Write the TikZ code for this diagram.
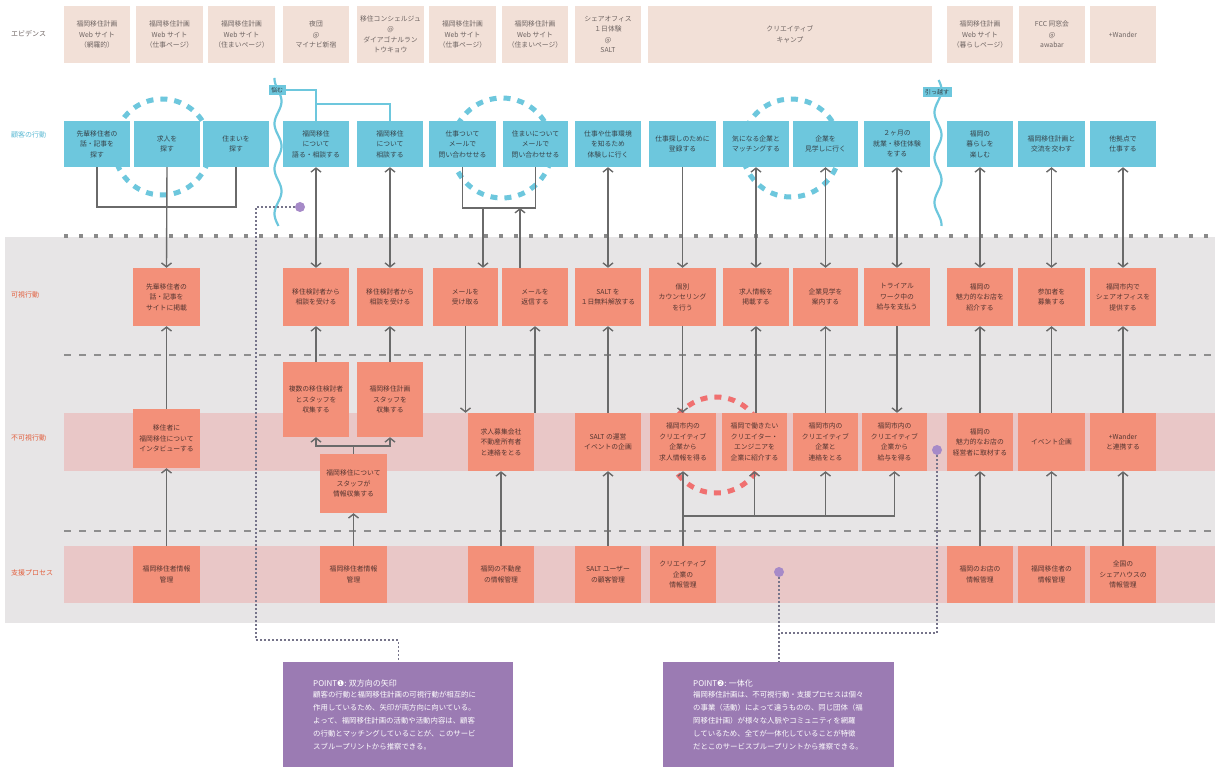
\documentclass[tikz,border=0pt]{standalone}
\usepackage{fontspec}
\setmainfont{Noto Sans CJK JP}
\newfontfamily\dingfont{DejaVu Sans}
\usetikzlibrary{arrows.meta}

\definecolor{evifill}{HTML}{F2E0D7}
\definecolor{evitext}{HTML}{6E6462}
\definecolor{cusfill}{HTML}{6DC7DD}
\definecolor{custext}{HTML}{36434A}
\definecolor{salfill}{HTML}{F39079}
\definecolor{saltext}{HTML}{553530}
\definecolor{bandgrey}{HTML}{E7E5E6}
\definecolor{bandpink}{HTML}{E9C7C7}
\definecolor{dashgrey}{HTML}{8E8E8E}
\definecolor{dotgrey}{HTML}{8A8A8A}
\definecolor{linegrey}{HTML}{6A6A6A}
\definecolor{purplebox}{HTML}{9B7BB3}
\definecolor{purpledot}{HTML}{A68AC8}
\definecolor{leadercol}{HTML}{76748A}
\definecolor{bluetext}{HTML}{5CBAD4}
\definecolor{redtext}{HTML}{E2603F}
\definecolor{ringred}{HTML}{F07070}

% box placed by its corners: style, name, x1, y1, x2, y2, text
\newcommand\boxat[7]{%
  \pgfmathsetmacro\bxw{#5-#3}\pgfmathsetmacro\bxh{#6-#4}%
  \node[#1, minimum width=\bxw pt, minimum height=\bxh pt] (#2) at ({(#3+#5)/2},{(#4+#6)/2}) {#7};}

\tikzset{
  bx/.style={inner sep=0pt, align=center, font=\fontsize{6.8}{10.5}\selectfont},
  evi/.style={bx, fill=evifill, text=evitext},
  cus/.style={bx, fill=cusfill, text=custext},
  sal/.style={bx, fill=salfill, text=saltext},
  rowlabel/.style={anchor=west, inner sep=0pt, font=\fontsize{7}{8}\selectfont},
  ln/.style={draw=linegrey, line width=1.4pt},
  arr/.style={ln, -{Straight Barb[length=4pt,width=10pt]}},
  biarr/.style={ln, {Straight Barb[length=4pt,width=10pt]}-{Straight Barb[length=4pt,width=10pt]}},
  blueln/.style={draw=cusfill, line width=2.2pt},
  ring/.style={line width=5pt, dash pattern=on 7pt off 7pt},
  rowsep/.style={draw=dashgrey, line width=2.6pt, dash pattern=on 7pt off 8pt},
  leader/.style={draw=leadercol, line width=1.3pt, dash pattern=on 1.6pt off 2.4pt},
  pdot/.style={circle, fill=purpledot, inner sep=0pt, minimum size=10pt},
  waytag/.style={fill=cusfill, text=custext, inner sep=2.5pt, font=\fontsize{6}{7}\selectfont},
  pointbox/.style={fill=purplebox, inner sep=0pt},
  pointtitle/.style={anchor=west, text=white, inner sep=0pt, font=\fontsize{8}{9}\selectfont},
  pointbody/.style={anchor=north west, text=white, align=left, inner sep=0pt, font=\fontsize{7.4}{13}\selectfont},
}

\begin{document}
\begin{tikzpicture}[x=1pt,y=-1pt]
\useasboundingbox (0,0) rectangle (1215,767);
\fill[white] (0,0) rectangle (1215,767);

% lanes
\fill[bandgrey] (5,237) rectangle (1215,623);
\fill[bandpink] (64,413) rectangle (1215,471);
\fill[bandpink] (64,546) rectangle (1215,603);
\draw[rowsep] (64,355) -- (1215,355);
\draw[rowsep] (64,531) -- (1215,531);
\draw[draw=dotgrey, line width=4pt, dash pattern=on 4pt off 11pt] (64,236) -- (1215,236);

% dashed rings behind the boxes
\draw[ring, draw=cusfill] (162,147) circle (48pt);
\draw[ring, draw=cusfill] (502,148) circle (50pt);
\draw[ring, draw=cusfill] (791,148) circle (49pt);
\draw[ring, draw=ringred] (716,445) circle (48pt);

% row labels
\node[rowlabel, text=evitext] (lEvi) at (11,34) {エビデンス};
\node[rowlabel, text=bluetext] (lCus) at (11,135) {顧客の行動};
\node[rowlabel, text=redtext] (lVis) at (11,295) {可視行動};
\node[rowlabel, text=redtext] (lInv) at (11,438) {不可視行動};
\node[rowlabel, text=redtext] (lSup) at (11,573) {支援プロセス};

% wavy phase dividers
\draw[blueln] plot[domain=78:226, samples=90, smooth] ({278+3.5*sin(8*\x)},{\x});
\draw[blueln] plot[domain=80:226, samples=90, smooth] ({938+3.5*sin(8*\x+90)},{\x});

% evidence
\boxat{evi}{e1}{64}{6}{130}{63}{福岡移住計画\\Web サイト\\（網羅的）}
\boxat{evi}{e2}{136}{6}{203}{63}{福岡移住計画\\Web サイト\\（仕事ページ）}
\boxat{evi}{e3}{208}{6}{275}{63}{福岡移住計画\\Web サイト\\（住まいページ）}
\boxat{evi}{e4}{283}{6}{349}{63}{夜団\\@\\マイナビ新宿}
\boxat{evi}{e5}{357}{6}{424}{63}{移住コンシェルジュ\\@\\ダイアゴナルラン\\トウキョウ}
\boxat{evi}{e6}{429}{6}{496}{63}{福岡移住計画\\Web サイト\\（仕事ページ）}
\boxat{evi}{e7}{502}{6}{568}{63}{福岡移住計画\\Web サイト\\（住まいページ）}
\boxat{evi}{e8}{575}{6}{641}{63}{シェアオフィス\\１日体験\\@\\SALT}
\boxat{evi}{e9}{648}{6}{932}{63}{クリエイティブ\\キャンプ}
\boxat{evi}{e10}{947}{6}{1013}{63}{福岡移住計画\\Web サイト\\（暮らしページ）}
\boxat{evi}{e11}{1019}{6}{1085}{63}{FCC 同窓会\\@\\awabar}
\boxat{evi}{e12}{1090}{6}{1156}{63}{+Wander}

% customer actions
\boxat{cus}{cu1}{64}{121}{130}{167}{先輩移住者の\\話・記事を\\探す}
\boxat{cus}{cu2}{134}{121}{200}{167}{求人を\\探す}
\boxat{cus}{cu3}{203}{121}{269}{167}{住まいを\\探す}
\boxat{cus}{cu4}{283}{121}{349}{167}{福岡移住\\について\\語る・相談する}
\boxat{cus}{cu5}{357}{121}{423}{167}{福岡移住\\について\\相談する}
\boxat{cus}{cu6}{429}{121}{496}{167}{仕事ついて\\メールで\\問い合わせせる}
\boxat{cus}{cu7}{503}{121}{568}{167}{住まいについて\\メールで\\問い合わせせる}
\boxat{cus}{cu8}{575}{121}{641}{167}{仕事や仕事環境\\を知るため\\体験しに行く}
\boxat{cus}{cu9}{649}{121}{716}{167}{仕事探しのために\\登録する}
\boxat{cus}{cu10}{723}{121}{789}{167}{気になる企業と\\マッチングする}
\boxat{cus}{cu11}{793}{121}{858}{167}{企業を\\見学しに行く}
\boxat{cus}{cu12}{864}{121}{930}{167}{２ヶ月の\\就業・移住体験\\をする}
\boxat{cus}{cu13}{947}{121}{1013}{167}{福岡の\\暮らしを\\楽しむ}
\boxat{cus}{cu14}{1018}{121}{1085}{167}{福岡移住計画と\\交流を交わす}
\boxat{cus}{cu15}{1090}{121}{1156}{167}{他拠点で\\仕事する}

% visible actions
\boxat{sal}{vi2}{133}{268}{200}{326}{先輩移住者の\\話・記事を\\サイトに掲載}
\boxat{sal}{vi4}{283}{268}{349}{326}{移住検討者から\\相談を受ける}
\boxat{sal}{vi5}{357}{268}{423}{326}{移住検討者から\\相談を受ける}
\boxat{sal}{vi6}{433}{268}{498}{326}{メールを\\受け取る}
\boxat{sal}{vi7}{502}{268}{568}{326}{メールを\\返信する}
\boxat{sal}{vi8}{575}{268}{641}{326}{SALT を\\１日無料解放する}
\boxat{sal}{vi9}{649}{268}{716}{326}{個別\\カウンセリング\\を行う}
\boxat{sal}{vi10}{723}{268}{789}{326}{求人情報を\\掲載する}
\boxat{sal}{vi11}{793}{268}{858}{326}{企業見学を\\案内する}
\boxat{sal}{vi12}{864}{268}{930}{326}{トライアル\\ワーク中の\\給与を支払う}
\boxat{sal}{vi13}{947}{268}{1013}{326}{福岡の\\魅力的なお店を\\紹介する}
\boxat{sal}{vi14}{1018}{268}{1085}{326}{参加者を\\募集する}
\boxat{sal}{vi15}{1090}{268}{1156}{326}{福岡市内で\\シェアオフィスを\\提供する}

% invisible actions
\boxat{sal}{in2}{133}{409}{200}{468}{移住者に\\福岡移住について\\インタビューする}
\boxat{sal}{in4}{283}{362}{349}{437}{複数の移住検討者\\とスタッフを\\収集する}
\boxat{sal}{in5}{357}{362}{423}{437}{福岡移住計画\\スタッフを\\収集する}
\boxat{sal}{col}{320}{454}{387}{513}{福岡移住について\\スタッフが\\情報収集する}
\boxat{sal}{in6}{468}{413}{534}{471}{求人募集会社\\不動産所有者\\と連絡をとる}
\boxat{sal}{in8}{575}{413}{641}{471}{SALT の運営\\イベントの企画}
\boxat{sal}{in9}{650}{413}{716}{471}{福岡市内の\\クリエイティブ\\企業から\\求人情報を得る}
\boxat{sal}{in10}{722}{413}{787}{471}{福岡で働きたい\\クリエイター・\\エンジニアを\\企業に紹介する}
\boxat{sal}{in11}{793}{413}{858}{471}{福岡市内の\\クリエイティブ\\企業と\\連絡をとる}
\boxat{sal}{in12}{862}{413}{927}{471}{福岡市内の\\クリエイティブ\\企業から\\給与を得る}
\boxat{sal}{in13}{947}{413}{1013}{471}{福岡の\\魅力的なお店の\\経営者に取材する}
\boxat{sal}{in14}{1018}{413}{1085}{471}{イベント企画}
\boxat{sal}{in15}{1090}{413}{1156}{471}{+Wander\\と連携する}

% support processes
\boxat{sal}{su2}{133}{546}{200}{603}{福岡移住者情報\\管理}
\boxat{sal}{su4}{320}{546}{387}{603}{福岡移住者情報\\管理}
\boxat{sal}{su6}{468}{546}{534}{603}{福岡の不動産\\の情報管理}
\boxat{sal}{su8}{575}{546}{641}{603}{SALT ユーザー\\の顧客管理}
\boxat{sal}{su9}{650}{546}{716}{603}{クリエイティブ\\企業の\\情報管理}
\boxat{sal}{su13}{947}{546}{1013}{603}{福岡のお店の\\情報管理}
\boxat{sal}{su14}{1018}{546}{1085}{603}{福岡移住者の\\情報管理}
\boxat{sal}{su15}{1090}{546}{1156}{603}{全国の\\シェアハウスの\\情報管理}

% phase tags and their links
\node[waytag] (tNayamu) at (277,90) {悩む};
\node[waytag] (tHikkosu) at (937,92) {引っ越す};
\draw[blueln] (tNayamu.east) -| (cu4.north);
\draw[blueln] (cu4.north |- 0,104) -| (cu5.north);

% column: searching
\draw[ln] (cu1.south) |- (cu3.south |- 0,207) -- (cu3.south);
\draw[arr] (cu2.south) -- (vi2.north);
\draw[arr] (in2.north) -- (vi2.south);
\draw[arr] (su2.north) -- (in2.south);

% column: consultation
\draw[biarr] (cu4.south) -- (vi4.north);
\draw[biarr] (cu5.south) -- (vi5.north);
\draw[arr] (in4.north) -- (vi4.south);
\draw[arr] (in5.north) -- (vi5.south);
\coordinate (cj) at (col.north |- 0,446);
\draw[ln] (col.north) -- (cj);
\draw[arr] (cj) -| (in4.south);
\draw[arr] (cj) -| (in5.south);
\draw[arr] (su4.north) -- (col.south);

% column: mail enquiries
\coordinate (mj1) at (483,208);
\coordinate (mj2) at (520,208);
\draw[ln] (cu6.south) |- (cu7.south |- mj2) -- (cu7.south);
\draw[arr] (mj1) -- (mj1 |- vi6.north);
\draw[arr] (mj2 |- vi7.north) -- (mj2);
\draw[arr] (vi6.south) -- (vi6.south |- in6.north);
\draw[arr] (in6.north -| vi7.south) -- (vi7.south);
\draw[arr] (su6.north) -- (in6.south);

% column: SALT
\draw[biarr] (cu8.south) -- (vi8.north);
\draw[arr] (in8.north) -- (vi8.south);
\draw[arr] (su8.north) -- (in8.south);

% creative camp
\draw[arr] (cu9.south) -- (vi9.north);
\draw[arr] (vi9.south) -- (vi9.south |- in9.north);
\draw[arr] (su9.north) -- (in9.south);
\coordinate (kR) at (in12.south |- 0,516);
\draw[ln] (su9.north |- kR) -- (kR);
\draw[arr] (in10.south |- kR) -- (in10.south);
\draw[arr] (in11.south |- kR) -- (in11.south);
\draw[arr] (kR) -- (in12.south);
\draw[biarr] (cu10.south) -- (vi10.north);
\draw[arr] (in10.north -| vi10.south) -- (vi10.south);
\draw[biarr] (cu11.south) -- (vi11.north);
\draw[arr] (in11.north) -- (vi11.south);
\draw[biarr] (cu12.south) -- (vi12.north);
\draw[arr] (vi12.south) -- (vi12.south |- in12.north);

% after moving
\draw[biarr] (cu13.south) -- (vi13.north);
\draw[arr] (in13.north) -- (vi13.south);
\draw[arr] (su13.north) -- (in13.south);
\draw[biarr] (cu14.south) -- (vi14.north);
\draw[arr] (in14.north) -- (vi14.south);
\draw[arr] (su14.north) -- (in14.south);
\draw[biarr] (cu15.south) -- (vi15.north);
\draw[arr] (in15.north) -- (vi15.south);
\draw[arr] (su15.north) -- (in15.south);

% notes
\node[pointbox, anchor=north west, minimum width=230pt, minimum height=106pt] (p1) at (283,662) {};
\node[pointbox, anchor=north west, minimum width=231pt, minimum height=106pt] (p2) at (663,662) {};
\node[pointtitle] (p1t) at (313,683) {POINT{\dingfont ❶}: 双方向の矢印};
\node[pointbody] (p1b) at (313,691) {顧客の行動と福岡移住計画の可視行動が相互的に\\
作用しているため、矢印が両方向に向いている。\\
よって、福岡移住計画の活動や活動内容は、顧客\\
の行動とマッチングしていることが、このサービ\\
スブループリントから推察できる。};
\node[pointtitle] (p2t) at (693,683) {POINT{\dingfont ❷}: 一体化};
\node[pointbody] (p2b) at (693,691) {福岡移住計画は、不可視行動・支援プロセスは個々\\
の事業（活動）によって違うものの、同じ団体（福\\
岡移住計画）が様々な人脈やコミュニティを網羅\\
しているため、全てが一体化していることが特徴\\
だとこのサービスブループリントから推察できる。};

% leaders to the notes
\node[pdot] (d1) at (300,207) {};
\node[pdot] (d2) at (779,572) {};
\node[pdot] (d3) at (937,450) {};
\draw[leader] (d1) -| (256,640) -| (p1.north);
\draw[leader] (d2) -- (d2 |- p2.north);
\draw[leader] (d3) |- (d2 |- 0,633);
\end{tikzpicture}
\end{document}
